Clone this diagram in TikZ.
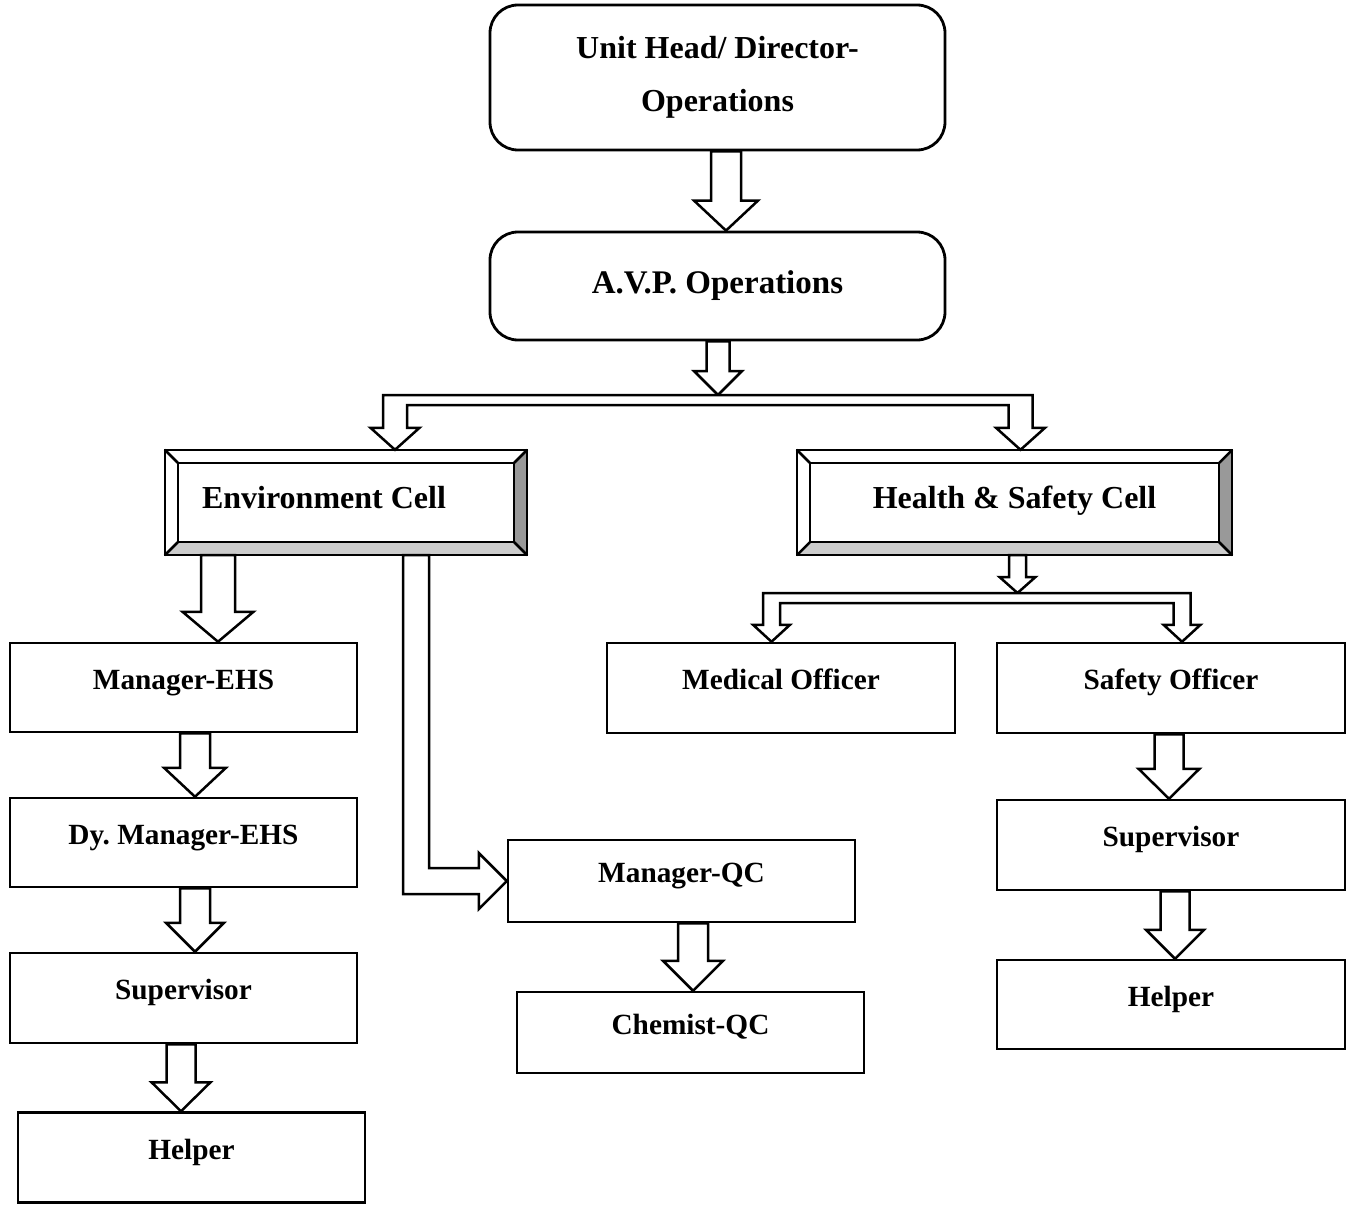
\documentclass[tikz,border=0pt]{standalone}
\usepackage{fontspec}
\setmainfont{Liberation Serif}
\usetikzlibrary{calc}
\definecolor{bevdark}{gray}{0.6}
\definecolor{bevlight}{gray}{0.8}

\begin{document}
\begin{tikzpicture}[x=1pt,y=-1pt,
  every node/.style={font=\fontsize{32}{38}\selectfont\bfseries},
  roundbox/.style={draw,line width=2.8pt,rounded corners=28pt,minimum width=455pt,align=center},
  post/.style={draw,line width=2.5pt,minimum width=347pt,minimum height=89pt,
    font=\fontsize{29.3}{35}\selectfont\bfseries,text height=0.7em,text depth=0.35em},
  cell/.style={minimum height=105pt},
  blockarrow/.style={draw,fill=white,line width=2.5pt},
  bevelline/.style={line width=2.5pt}]
\newcommand{\fatarrow}[5]{% start, tip, shaft half, head half, head length
  \draw[blockarrow] let \p1=#1, \p2=#2 in
    (\x2-#3,\y1) -- (\x2+#3,\y1) -- (\x2+#3,\y2+#5) -- (\x2+#4,\y2+#5) -- (\x2,\y2)
    -- (\x2-#4,\y2+#5) -- (\x2-#3,\y2+#5) -- cycle;}
\newcommand{\splitarrow}[7]{% bar point, left tip, right tip, shaft half, head half, head length, bar
  \draw[blockarrow] let \p0=#1, \p1=#2, \p2=#3 in
    (\x1-#4,\y0) -- (\x2+#4,\y0) -- (\x2+#4,\y2+#6) -- (\x2+#5,\y2+#6) -- (\x2,\y2)
    -- (\x2-#5,\y2+#6) -- (\x2-#4,\y2+#6) -- (\x2-#4,\y0-#7) -- (\x1+#4,\y0-#7)
    -- (\x1+#4,\y1+#6) -- (\x1+#5,\y1+#6) -- (\x1,\y1) -- (\x1-#5,\y1+#6)
    -- (\x1-#4,\y1+#6) -- cycle;}
\newcommand{\bevelbox}[1]{%
  \fill[bevdark] (#1.north east) -- (#1.south east) -- ($(#1.south east)+(-13,-13)$) -- ($(#1.north east)+(-13,13)$) -- cycle;
  \fill[bevlight] (#1.south west) -- (#1.south east) -- ($(#1.south east)+(-13,-13)$) -- ($(#1.south west)+(13,-13)$) -- cycle;
  \draw[bevelline] ($(#1.north west)+(13,13)$) rectangle ($(#1.south east)+(-13,-13)$);
  \draw[bevelline] (#1.north west) -- +(13,13) (#1.north east) -- +(-13,13)
    (#1.south west) -- +(13,-13) (#1.south east) -- +(-13,-13);
  \draw[bevelline] (#1.north west) rectangle (#1.south east);}
\useasboundingbox (0,0) rectangle (1351,1204);

% top of the chart
\node[roundbox,minimum height=145pt,font=\fontsize{32}{53}\selectfont\bfseries] (unithead) at (717.5,77.5) {Unit Head/ Director-\\Operations};
\node[roundbox,minimum height=108pt,font=\fontsize{33}{38}\selectfont\bfseries] (avp) at (717.5,286) {A.V.P. Operations};

% the two cells
\node[cell,minimum width=362pt,label={[xshift=-22pt,yshift=5pt]center:Environment Cell}] (envcell) at (346,502.5) {};
\node[cell,minimum width=435pt,label={[yshift=2pt]center:Health \& Safety Cell}] (hscell) at (1014.5,502.5) {};
\bevelbox{envcell}
\bevelbox{hscell}

% environment side
\node[post] (mgrehs) at (183.5,687.5) {Manager-EHS};
\node[post] (dymgr) at (183.5,842.5) {Dy.\ Manager-EHS};
\node[post,minimum height=90pt] (supleft) at (183.5,998) {Supervisor};
\node[post,minimum height=90pt] (helpleft) at (191.5,1157.5) {Helper};
\node[post,minimum height=82pt] (mgrqc) at (681.5,881) {Manager-QC};
\node[post,minimum height=81pt] (chemqc) at (690.5,1032.5) {Chemist-QC};

% health and safety side
\node[post,minimum width=348pt,minimum height=90pt] (medoff) at (781,688) {Medical Officer};
\node[post,minimum width=348pt,minimum height=90pt] (safoff) at (1171,688) {Safety Officer};
\node[post,minimum width=348pt,minimum height=90pt] (supright) at (1171,845) {Supervisor};
\node[post,minimum width=348pt] (helpright) at (1171,1004.5) {Helper};

% arrows
\coordinate (avpsplit) at (718,395);
\coordinate (hssplit) at (1017.5,593);
\fatarrow{(unithead.south)}{(avp.north -| 726,0)}{15pt}{32pt}{30pt}
\fatarrow{(avp.south)}{(avpsplit)}{11.5pt}{24pt}{24pt}
\splitarrow{(avpsplit)}{(envcell.north -| 395,0)}{(hscell.north -| 1020.5,0)}{12pt}{24.5pt}{22pt}{10pt}
\fatarrow{(envcell.south)}{(mgrehs.north -| 218,0)}{17pt}{35.5pt}{30pt}
\draw[blockarrow] let \p1=(envcell.south -| 416,0), \p2=(mgrqc.west) in
  (\x1-13pt,\y1) -- (\x1+13pt,\y1) -- (\x1+13pt,\y2+13pt) -- (\x2-28pt,\y2+13pt)
  -- (\x2-28pt,\y2+28pt) -- (\x2,\y2) -- (\x2-28pt,\y2-28pt) -- (\x2-28pt,\y2-13pt)
  -- (\x1-13pt,\y2-13pt) -- cycle;
\fatarrow{(mgrehs.south)}{(dymgr.north -| 195,0)}{15pt}{31pt}{29pt}
\fatarrow{(dymgr.south)}{(supleft.north -| 195,0)}{15pt}{29pt}{29pt}
\fatarrow{(supleft.south)}{(helpleft.north -| 181,0)}{14.5pt}{29.5pt}{29pt}
\fatarrow{(mgrqc.south)}{(chemqc.north -| 693,0)}{15pt}{30pt}{30pt}
\fatarrow{(hscell.south)}{(hssplit)}{8.5pt}{18pt}{16pt}
\splitarrow{(hssplit)}{(medoff.north -| 771.5,0)}{(safoff.north -| 1182,0)}{8.5pt}{18.5pt}{17pt}{10pt}
\fatarrow{(safoff.south)}{(supright.north -| 1169,0)}{14.5pt}{30.5pt}{30pt}
\fatarrow{(supright.south)}{(helpright.north -| 1175,0)}{14.5pt}{29pt}{29pt}
\end{tikzpicture}
\end{document}
